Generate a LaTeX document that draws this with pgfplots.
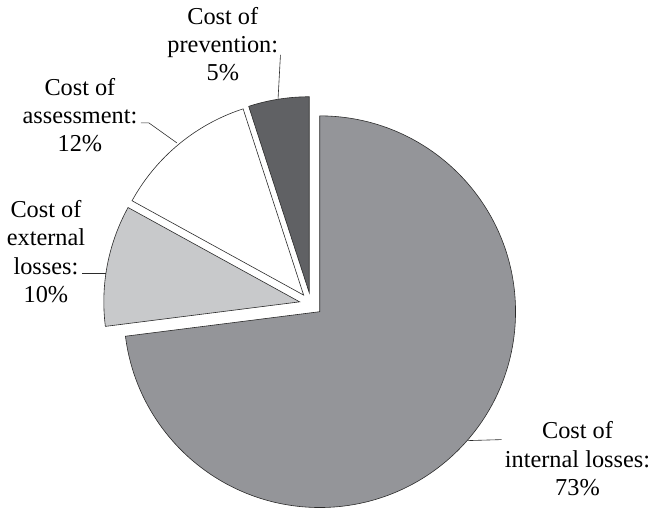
\documentclass[border=0pt]{standalone}
\usepackage{pgfplots}
\pgfplotsset{compat=1.18}
\usepackage{fontspec}
\setmainfont{Liberation Serif}
\definecolor{cInt}{HTML}{949599}
\definecolor{cExt}{HTML}{C8C9CB}
\definecolor{cAss}{HTML}{FFFFFF}
\definecolor{cPrev}{HTML}{606164}
\definecolor{cEdge}{HTML}{2B2B2B}
% anchor=base of a multi-line node = baseline of its last line
\tikzset{lbl/.style={align=center, inner sep=0pt, anchor=base, font=\fontsize{24.4}{28.5}\selectfont}}
% #1 start angle, #2 percent, #3 colour ; pie origin (311.3,207.7), explode 11.6, radius 196 (1 unit = 1bp)
\newcommand{\pieslice}[3]{%
  \filldraw[fill=#3, draw=cEdge, line width=0.6bp, line join=miter]
    (axis cs:311.3,207.7) ++({#1-1.8*#2}:11.6bp)
    -- ++(#1:196bp)
    arc[start angle=#1, delta angle={-3.6*#2}, radius=196bp] -- cycle;
}
\begin{document}
\begin{tikzpicture}
\begin{axis}[
  width=650bp, height=512bp, scale only axis,
  xmin=0, xmax=650, ymin=0, ymax=512,
  hide axis, clip=false,
]
\path (axis cs:0,0) rectangle (axis cs:650,512);
% data: percentages 73, 10, 12, 5
\pieslice{90}{73}{cInt}
\pieslice{-172.8}{10}{cExt}
\pieslice{-208.8}{12}{cAss}
\pieslice{-252}{5}{cPrev}
% leader lines
\draw[cEdge, line width=0.6bp] (axis cs:280.7,457) -- (axis cs:278.3,413);
\draw[cEdge, line width=0.6bp] (axis cs:141,389) -- (axis cs:149,389) -- (axis cs:177,369);
\draw[cEdge, line width=0.6bp] (axis cs:82,238) -- (axis cs:106,238);
\draw[cEdge, line width=0.6bp] (axis cs:468,71) -- (axis cs:502,72);
% labels (positions = baseline of the last line)
\node[lbl] at (axis cs:223,431) {Cost of\\prevention:\\5\%};
\node[lbl] at (axis cs:80,360) {Cost of\\assessment:\\12\%};
\node[lbl] at (axis cs:46,209) {Cost of\\external\\losses:\\10\%};
\node[lbl] at (axis cs:578,16) {Cost of\\internal losses:\\73\%};
\end{axis}
\end{tikzpicture}
\end{document}
